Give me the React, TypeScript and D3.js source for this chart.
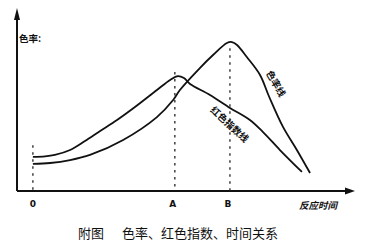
import React from "react";
import * as d3 from "d3";

// Reaction-time axis values (arbitrary units) and curve readings
const redIndexX = [4.7, 8.3, 11.2, 15.7, 20.1, 24.6, 29.6, 34.9, 41.4, 45.3, 47.6, 49.4, 51.2, 57.1, 63.0, 68.9, 72.8, 77.8, 84.3];
const redIndexY = [18.6, 18.9, 19.7, 22.4, 27.3, 32.8, 38.8, 45.9, 55.2, 60.7, 62.8, 61.7, 58.5, 52.5, 45.4, 38.8, 32.2, 22.4, 10.4];

const colorRateX = [4.7, 9.8, 15.7, 21.6, 31.4, 41.4, 46.2, 48.2, 54.1, 58.0, 62.1, 63.6, 65.1, 68.0, 71.9, 74.6, 78.7, 82.8, 86.7];
const colorRateY = [14.8, 15.3, 16.9, 19.7, 27.9, 40.4, 49.7, 55.2, 67.2, 74.3, 80.9, 81.4, 79.8, 73.2, 63.4, 51.5, 35.0, 22.4, 9.8];

// Marked instants on the time axis and the height each guide line reaches
const tickLabels = ["0", "A", "B"];
const tickValues = [4.7, 46.7, 63.0];
const guideTops = [25, 65, 78];

const W = 373;
const H = 249;

export default function App() {
  const x = d3.scaleLinear().domain([0, 100]).range([17, 355]);
  const y = d3.scaleLinear().domain([0, 100]).range([191, 8]);

  const line = d3
    .line<[number, number]>()
    .x((d) => x(d[0]))
    .y((d) => y(d[1]))
    .curve(d3.curveCatmullRom.alpha(0.5));

  const redPts = redIndexX.map((v, i) => [v, redIndexY[i]] as [number, number]);
  const ratePts = colorRateX.map((v, i) => [v, colorRateY[i]] as [number, number]);

  const x0 = x(0);
  const y0 = y(0);
  const xEnd = x(100);
  const yTop = y(100);

  const cjk = "'Noto Sans CJK SC', 'Noto Sans', sans-serif";

  return (
    <div style={{ position: "absolute", left: 0, top: 0 }}>
      <svg width={W} height={H} viewBox={`0 0 ${W} ${H}`} style={{ display: "block", background: "#fff" }}>
        {/* axes */}
        <line x1={x0} y1={y0} x2={xEnd - 6} y2={y0} stroke="#111" strokeWidth={2} />
        <line x1={x0} y1={y0} x2={x0} y2={yTop + 6} stroke="#111" strokeWidth={2} />
        <path d={`M${xEnd},${y0} L${xEnd - 10},${y0 - 3.5} L${xEnd - 10},${y0 + 3.5} Z`} fill="#111" />
        <path d={`M${x0},${yTop} L${x0 - 3},${yTop + 12} L${x0 + 3},${yTop + 12} Z`} fill="#111" />

        {/* vertical guide lines */}
        {tickValues.map((v, i) => (
          <line
            key={"g" + i}
            x1={x(v)}
            x2={x(v)}
            y1={y(guideTops[i])}
            y2={y0}
            stroke="#222"
            strokeWidth={1.3}
            strokeDasharray="2.5 4.5"
          />
        ))}

        {/* curves */}
        <path d={line(redPts) || ""} fill="none" stroke="#111" strokeWidth={1.8} />
        <path d={line(ratePts) || ""} fill="none" stroke="#111" strokeWidth={1.8} />

        {/* tick labels */}
        {tickLabels.map((t, i) => (
          <text
            key={"t" + i}
            x={x(tickValues[i]) - (i === 0 ? 0 : 2)}
            y={207}
            textAnchor="middle"
            fontFamily="'DejaVu Sans', sans-serif"
            fontWeight="bold"
            fontSize={9}
            fill="#111"
          >
            {t}
          </text>
        ))}

        <text x={299} y={209} fontFamily={cjk} fontWeight="bold" fontStyle="italic" fontSize={9.5} fill="#111">
          反应时间
        </text>
        <text x={19} y={42} fontFamily={cjk} fontWeight="bold" fontSize={9.5} fill="#111">
          色率:
        </text>

        {/* curve names */}
        <text
          transform={`translate(275,84) rotate(60)`}
          textAnchor="middle"
          dominantBaseline="middle"
          fontFamily={cjk}
          fontWeight="bold"
          fontSize={9.5}
          fill="#111"
        >
          色率线
        </text>
        <text
          transform={`translate(229,125) rotate(43)`}
          textAnchor="middle"
          dominantBaseline="middle"
          fontFamily={cjk}
          fontWeight="bold"
          fontSize={9.5}
          fill="#111"
        >
          红色指数线
        </text>

        {/* caption */}
        <text x={78} y={238} fontFamily={cjk} fontSize={13} fill="#111">
          附图
        </text>
        <text x={122} y={238} fontFamily={cjk} fontSize={13} fill="#111">
          色率、红色指数、时间关系
        </text>
      </svg>
    </div>
  );
}
